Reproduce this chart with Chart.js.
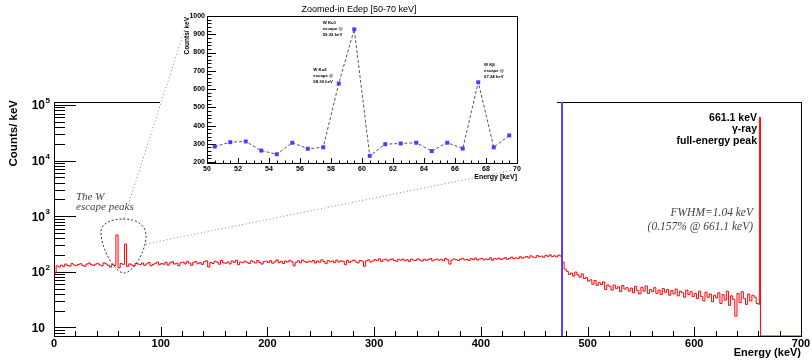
<!DOCTYPE html>
<html>
<head>
<meta charset="utf-8">
<script src="https://cdn.jsdelivr.net/npm/chart.js"></script>
<style>
  body { margin: 0; background: #fff; }
  #wrap { position: relative; width: 812px; height: 361px; }
  canvas { position: absolute; }
  #inset { left: 160px; top: 0; background: #fff; }
  #overlay { left: 0; top: 0; pointer-events: none; }
</style>
</head>
<body>
<div id="wrap">
  <canvas id="main" width="812" height="361"></canvas>
  <canvas id="inset" width="397" height="190"></canvas>
  <canvas id="overlay" width="812" height="361"></canvas>
</div>
<script>
// main spectrum, 2 keV bins starting at 0 keV (counts / keV)
const binWidth = 2;
const contCounts = [
  95, 128, 122, 132, 125, 138, 130, 127, 141, 133,
  129, 136, 140, 131, 126, 138, 144, 135, 130, 137,
  142, 133, 128, 145, 139, 131, 122, 136, 130, 460,
  118, 141, 136, 316, 125, 139, 133, 127, 142, 138,
  135, 144, 131, 139, 147, 128, 136, 142, 150, 134,
  141, 137, 149, 132, 145, 152, 138, 143, 129, 146,
  150, 139, 155, 144, 131, 148, 153, 140, 146, 136,
  152, 158, 122, 147, 141, 155, 149, 137, 160, 145,
  143, 151, 139, 157, 148, 162, 135, 150, 146, 155,
  149, 141, 158, 152, 144, 160, 147, 138, 153, 156,
  148, 159, 143, 151, 164, 146, 155, 141, 157, 150,
  161, 152, 128, 149, 158, 145, 163, 154, 147, 156,
  151, 160, 144, 157, 149, 165, 153, 140, 159, 152,
  157, 146, 162, 150, 158, 154, 135, 161, 148, 156,
  163, 151, 145, 160, 155, 126, 158, 164, 150, 157,
  166, 159, 172, 154, 164, 169, 157, 165, 171, 160,
  155, 168, 162, 170, 158, 166, 153, 169, 163, 160,
  171, 163, 156, 169, 161, 167, 173, 158, 164, 170,
  162, 168, 157, 174, 165, 138, 163, 171, 166, 160,
  169, 175, 164, 167, 160, 173, 166, 177, 163, 170,
  175, 164, 171, 167, 179, 162, 173, 169, 177, 166,
  172, 180, 168, 175, 184, 171, 178, 174, 187, 176,
  182, 189, 178, 194, 185, 180, 196, 187, 192, 183,
  198, 190, 202, 189, 195, 186, 200, 192,
  150, 112,
  102, 90, 95, 84, 99, 88, 80, 92, 76, 79,
  68, 72, 60, 70, 57, 64, 59, 66, 48, 58,
  55, 47, 58, 50, 54, 44, 57, 49, 52, 45,
  51, 42, 55, 46, 40, 53, 45, 56, 41, 48,
  44, 52, 41, 47, 39, 50, 43, 48, 38, 46,
  40, 49, 37, 45, 42, 35, 47, 39, 44, 36,
  41, 33, 45, 36, 30, 43, 35, 40, 29, 38,
  34, 42, 27, 39, 31, 45, 25, 37, 32, 16,
  41, 28, 44, 33, 26, 40, 30, 38, 35, 27
];
// full-energy peak region, variable bins
const peakEdges = [660, 661, 662, 700];
const peakCounts = [26, 60000, 0];
const comptonEdge = 475;

const xTickLabels = [0, 100, 200, 300, 400, 500, 600, 700];
const yDecades = [1, 2, 3, 4, 5];
const yMin = 7.03, yMax = 1.13e5;

// inset: zoomed-in 50-70 keV, 1 keV bins
const insetEnergy = [50.5, 51.5, 52.5, 53.5, 54.5, 55.5, 56.5, 57.5, 58.5, 59.5,
                     60.5, 61.5, 62.5, 63.5, 64.5, 65.5, 66.5, 67.5, 68.5, 69.5];
const insetCounts = [285, 309, 313, 263, 243, 306, 273, 281, 630, 927,
                     234, 298, 302, 306, 260, 306, 274, 637, 281, 346];
const insetXLabels = [50, 52, 54, 56, 58, 60, 62, 64, 66, 68, 70];
const insetYLabels = [200, 300, 400, 500, 600, 700, 800, 900, 1000];

const SANS = '"Liberation Sans", Arial, sans-serif';
const SERIF = '"Liberation Serif", "Times New Roman", serif';

// build step points (left edges), empty bins drawn on the frame bottom like ROOT
const spectrum = contCounts.map((c, i) => ({ x: i * binWidth, y: c }));
peakEdges.forEach((e, i) => {
  const c = i < peakCounts.length ? peakCounts[i] : 0;
  spectrum.push({ x: e, y: c > 0 ? c : yMin });
});

const px = v => Math.round(v) + 0.5;

const mainAxes = {
  id: 'mainAxes',
  beforeDatasetsDraw(chart) {
    const { ctx, chartArea: a, scales: { x, y } } = chart;
    ctx.save();
    ctx.strokeStyle = '#000';
    ctx.lineWidth = 1;
    ctx.strokeRect(px(a.left), px(a.top), Math.round(a.right - a.left), Math.round(a.bottom - a.top));
    ctx.beginPath();
    for (let e = 0; e <= 5; e++) {
      for (let m = 1; m <= 9; m++) {
        const v = m * Math.pow(10, e);
        if (v < yMin || v > yMax) continue;
        const yy = px(y.getPixelForValue(v));
        ctx.moveTo(a.left, yy);
        ctx.lineTo(a.left + (m === 1 ? 22 : 11), yy);
      }
    }
    for (let v = 0; v <= 700; v += 20) {
      const xx = px(x.getPixelForValue(v));
      ctx.moveTo(xx, a.bottom);
      ctx.lineTo(xx, a.bottom - (v % 100 === 0 ? 9 : 5));
    }
    ctx.stroke();

    ctx.fillStyle = '#000';
    ctx.font = 'bold 11px ' + SANS;
    ctx.textAlign = 'center';
    ctx.textBaseline = 'middle';
    xTickLabels.forEach(v => ctx.fillText(String(v), x.getPixelForValue(v), 343.5));

    yDecades.forEach(e => {
      const yy = y.getPixelForValue(Math.pow(10, e));
      ctx.font = 'bold 12px ' + SANS;
      ctx.textAlign = 'right';
      ctx.fillText('10', 45, yy + 1);
      if (e > 1) {
        ctx.font = 'bold 8px ' + SANS;
        ctx.textAlign = 'left';
        ctx.fillText(String(e), 45.5, yy - 4);
      }
    });

    ctx.font = 'bold 11px ' + SANS;
    ctx.textAlign = 'right';
    ctx.fillText('Energy (keV)', 801, 353);

    ctx.save();
    ctx.translate(14, 100);
    ctx.rotate(-Math.PI / 2);
    ctx.font = 'bold 11.5px ' + SANS;
    ctx.textAlign = 'right';
    ctx.textBaseline = 'middle';
    ctx.fillText('Counts/ keV', 0, 0);
    ctx.restore();
    ctx.restore();
  },
  afterDatasetsDraw(chart) {
    const { ctx, chartArea: a, scales: { x } } = chart;
    ctx.save();
    // Compton edge marker
    ctx.strokeStyle = '#5a3cff';
    ctx.lineWidth = 2;
    const cx = Math.round(x.getPixelForValue(comptonEdge)) + 1;
    ctx.beginPath();
    ctx.moveTo(cx, a.top);
    ctx.lineTo(cx, a.bottom);
    ctx.stroke();

    ctx.fillStyle = '#000';
    ctx.textAlign = 'right';
    ctx.textBaseline = 'middle';
    ctx.font = 'bold 10.5px ' + SANS;
    ctx.fillText('661.1 keV', 757, 118);
    ctx.fillText('\u03b3-ray', 757, 129);
    ctx.fillText('full-energy peak', 757, 141);

    ctx.fillStyle = '#444';
    ctx.font = 'italic 11.5px ' + SERIF;
    ctx.fillText('FWHM=1.04 keV', 753, 213);
    ctx.fillText('(0.157% @ 661.1 keV)', 753, 227);

    ctx.textAlign = 'left';
    ctx.font = 'italic 11px ' + SERIF;
    ctx.fillText('The W', 76, 197);
    ctx.fillText('escape peaks', 76, 207);
    ctx.restore();
  }
};

new Chart(document.getElementById('main'), {
  type: 'line',
  data: {
    datasets: [{
      data: spectrum,
      borderColor: '#ff0000',
      borderWidth: 1,
      stepped: true,
      pointRadius: 0,
      fill: false
    }]
  },
  options: {
    responsive: false,
    animation: false,
    events: [],
    layout: { padding: { left: 54, right: 11, top: 102, bottom: 25 } },
    scales: {
      x: { type: 'linear', min: 0, max: 700, display: false },
      y: { type: 'logarithmic', min: yMin, max: yMax, display: false }
    },
    plugins: { legend: { display: false }, tooltip: { enabled: false } }
  },
  plugins: [mainAxes]
});

const insetAxes = {
  id: 'insetAxes',
  beforeDatasetsDraw(chart) {
    const { ctx, chartArea: a, scales: { x, y } } = chart;
    ctx.save();
    ctx.strokeStyle = '#000';
    ctx.lineWidth = 1;
    ctx.strokeRect(px(a.left), px(a.top), Math.round(a.right - a.left), Math.round(a.bottom - a.top));
    ctx.beginPath();
    for (let v = 200; v <= 1000; v += 20) {
      const yy = px(y.getPixelForValue(v));
      ctx.moveTo(a.left, yy);
      ctx.lineTo(a.left + (v % 100 === 0 ? 9 : 4.5), yy);
    }
    for (let v = 50; v <= 70; v += 0.5) {
      const xx = px(x.getPixelForValue(v));
      ctx.moveTo(xx, a.bottom);
      ctx.lineTo(xx, a.bottom - (v % 2 === 0 ? 5 : 2.5));
    }
    ctx.stroke();

    ctx.fillStyle = '#000';
    ctx.font = 'bold 7px ' + SANS;
    ctx.textBaseline = 'middle';
    ctx.textAlign = 'center';
    insetXLabels.forEach(v => ctx.fillText(String(v), x.getPixelForValue(v), 169));
    ctx.textAlign = 'right';
    insetYLabels.forEach(v => ctx.fillText(String(v), 45, y.getPixelForValue(v)));
    ctx.fillText('Energy [keV]', 357, 177);

    ctx.save();
    ctx.translate(27, 17);
    ctx.rotate(-Math.PI / 2);
    ctx.font = 'bold 6.5px ' + SANS;
    ctx.textAlign = 'right';
    ctx.fillText('Counts/ keV', 0, 0);
    ctx.restore();

    ctx.font = '9px ' + SANS;
    ctx.textAlign = 'center';
    ctx.fillText('Zoomed-in Edep [50-70 keV]', 199, 10);

    ctx.font = 'bold 4.3px ' + SANS;
    ctx.textAlign = 'left';
    [['W K\u03b11', 'escape @', '59.32 keV', 162.7, 23.3],
     ['W K\u03b12', 'escape @', '58.30 keV', 153.3, 70],
     ['W K\u03b2', 'escape @', '67.24 keV', 324, 65]].forEach(t => {
      ctx.fillText(t[0], t[3], t[4]);
      ctx.fillText(t[1], t[3], t[4] + 6);
      ctx.fillText(t[2], t[3], t[4] + 12);
    });
    ctx.restore();
  }
};

new Chart(document.getElementById('inset'), {
  type: 'line',
  data: {
    datasets: [{
      data: insetEnergy.map((e, i) => ({ x: e, y: insetCounts[i] })),
      borderColor: '#555',
      borderWidth: 1,
      borderDash: [3, 2],
      pointStyle: 'rect',
      pointRadius: 2.8,
      pointBorderWidth: 0,
      pointBackgroundColor: '#4b3bff',
      pointBorderColor: '#4b3bff',
      fill: false
    }]
  },
  options: {
    responsive: false,
    animation: false,
    events: [],
    layout: { padding: { left: 47, right: 40, top: 16, bottom: 27 } },
    scales: {
      x: { type: 'linear', min: 50, max: 70, display: false },
      y: { type: 'linear', min: 195, max: 1000, display: false }
    },
    plugins: { legend: { display: false }, tooltip: { enabled: false } }
  },
  plugins: [insetAxes]
});

// overlay: dashed loop around the escape peaks and the dotted lines to the inset
const o = document.getElementById('overlay').getContext('2d');
o.strokeStyle = '#333';
o.lineWidth = 1;
o.setLineDash([2, 2]);
o.beginPath();
o.moveTo(123, 219);
o.bezierCurveTo(138, 219, 147, 226, 146, 238);
o.bezierCurveTo(145, 252, 133, 273, 124, 273);
o.bezierCurveTo(115, 273, 102, 250, 101, 234);
o.bezierCurveTo(100, 224, 110, 219, 123, 219);
o.stroke();

o.strokeStyle = '#888';
o.setLineDash([1, 2.5]);
o.beginPath();
o.moveTo(124, 218);
o.lineTo(187, 22);
o.moveTo(146, 244);
o.lineTo(513, 170);
o.stroke();
</script>
</body>
</html>
